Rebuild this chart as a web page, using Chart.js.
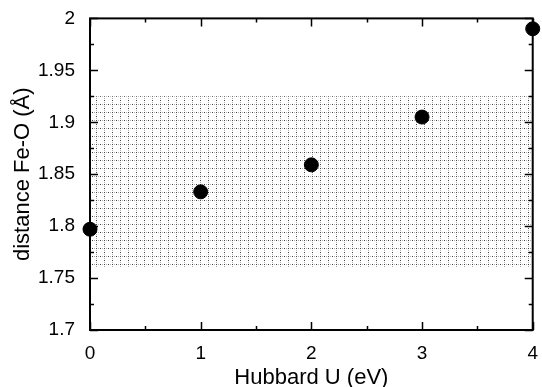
<!DOCTYPE html>
<html>
<head>
<meta charset="utf-8">
<script src="https://cdn.jsdelivr.net/npm/chart.js@4/dist/chart.umd.min.js"></script>
<style>
  html, body { margin: 0; padding: 0; background: #fff; }
  #wrap { width: 542px; height: 387px; }
</style>
</head>
<body>
<div id="wrap"><canvas id="c" width="542" height="387"></canvas></div>
<script>
// datos
const hubbardU = [0, 1, 2, 3, 4];
const distFeO  = [1.797, 1.833, 1.859, 1.905, 1.99];
const bandRange = [1.76, 1.925];   // rango experimental (zona rayada)
const xRange = [0, 4];
const yRange = [1.7, 2];

// patrón de cuadrícula punteada para la banda
function makePattern() {
  const p = document.createElement('canvas');
  p.width = 8; p.height = 8;
  const g = p.getContext('2d');
  g.fillStyle = '#fff';
  g.fillRect(0, 0, 8, 8);
  for (let x = 0; x < 8; x += 2) {
    g.fillStyle = x % 4 === 0 ? 'rgba(30,30,30,0.85)' : 'rgba(110,110,110,0.55)';
    g.fillRect(x, 0, 1, 1);
  }
  for (let y = 2; y < 8; y += 2) {
    g.fillStyle = y % 4 === 0 ? 'rgba(30,30,30,0.85)' : 'rgba(110,110,110,0.55)';
    g.fillRect(0, y, 1, 1);
  }
  return g.createPattern(p, 'repeat');
}

// marco y ticks hacia adentro en los cuatro lados
const framePlugin = {
  id: 'frame',
  afterDatasetsDraw(chart) {
    const { ctx, chartArea: a, scales: { x, y } } = chart;
    ctx.save();
    ctx.strokeStyle = '#000';
    ctx.lineWidth = 2;
    ctx.strokeRect(a.left, a.top, a.right - a.left, a.bottom - a.top);
    ctx.lineWidth = 1.5;
    ctx.beginPath();
    for (let v = xRange[0]; v <= xRange[1] + 1e-9; v += 0.5) {
      const px = Math.round(x.getPixelForValue(v)) + 0.5;
      const len = Math.abs(v - Math.round(v)) < 1e-9 ? 8 : 4;
      ctx.moveTo(px, a.bottom); ctx.lineTo(px, a.bottom - len);
      ctx.moveTo(px, a.top);    ctx.lineTo(px, a.top + len);
    }
    for (let i = 0; i <= 12; i++) {
      const v = yRange[0] + i * 0.025;
      const py = Math.round(y.getPixelForValue(v)) + 0.5;
      const len = i % 2 === 0 ? 8 : 4;
      ctx.moveTo(a.left, py);  ctx.lineTo(a.left + len, py);
      ctx.moveTo(a.right, py); ctx.lineTo(a.right - len, py);
    }
    ctx.stroke();
    ctx.restore();
  },
};

const family = 'Arial, "Liberation Sans", sans-serif';
const tickFont  = { family, size: 19 };
const titleFont = { family, size: 22, lineHeight: 1 };

new Chart(document.getElementById('c'), {
  type: 'scatter',
  data: {
    datasets: [
      {
        label: 'banda',
        type: 'line',
        data: xRange.map(v => ({ x: v, y: bandRange[1] })),
        fill: { value: bandRange[0] },
        backgroundColor: makePattern(),
        borderWidth: 0,
        pointRadius: 0,
        order: 2,
      },
      {
        label: 'Fe-O',
        data: hubbardU.map((u, i) => ({ x: u, y: distFeO[i] })),
        backgroundColor: '#000',
        borderColor: '#000',
        pointRadius: 7,
        clip: false,
        order: 1,
      },
    ],
  },
  options: {
    responsive: false,
    animation: false,
    layout: { padding: { top: 17, right: 4, left: 0, bottom: 0 } },
    plugins: { legend: { display: false }, tooltip: { enabled: false } },
    scales: {
      x: {
        type: 'linear', min: xRange[0], max: xRange[1],
        ticks: { stepSize: 1, color: '#000', font: tickFont, padding: 4, maxRotation: 0 },
        grid: { display: false },
        border: { display: false },
        title: { display: true, text: 'Hubbard U (eV)', color: '#000', font: titleFont, padding: { top: 0, bottom: -2 } },
        afterFit: s => { s.height = 57; },
      },
      y: {
        min: yRange[0], max: yRange[1],
        ticks: { stepSize: 0.05, color: '#000', font: tickFont, padding: 7, callback: v => +v.toFixed(2) },
        grid: { display: false },
        border: { display: false },
        title: { display: true, text: 'distance Fe-O (Å)', color: '#000', font: titleFont, padding: { top: 12, bottom: 0 } },
        afterFit: s => { s.width = 90; },
      },
    },
  },
  plugins: [framePlugin],
});
</script>
</body>
</html>
